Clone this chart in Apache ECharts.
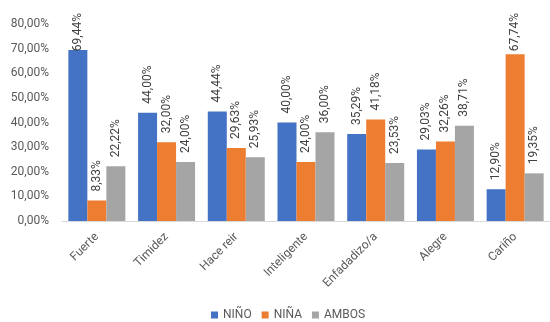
<!DOCTYPE html>
<html>
<head>
<meta charset="utf-8">
<script src="https://cdn.jsdelivr.net/npm/echarts@6/dist/echarts.min.js"></script>
<style>
  html, body { margin: 0; padding: 0; background: #fff; }
  #chart { width: 550px; height: 322px; }
</style>
</head>
<body>
<div id="chart"></div>
<script>
// Rasgos atribuidos a niños, niñas o ambos (porcentajes)
const categories = ['Fuerte', 'Timidez', 'Hace reir', 'Inteligente', 'Enfadadizo/a', 'Alegre', 'Cariño'];
const nino  = [69.44, 44.00, 44.44, 40.00, 35.29, 29.03, 12.90];
const nina  = [8.33, 32.00, 29.63, 24.00, 41.18, 32.26, 67.74];
const ambos = [22.22, 24.00, 25.93, 36.00, 23.53, 38.71, 19.35];
const seriesNames = ['NIÑO', 'NIÑA', 'AMBOS'];
const colors = ['#4472C4', '#ED7D31', '#A5A5A5'];

const FONT = 'Roboto';
const TEXT = '#595959';
const LABEL_SIZE = 12;
const LABEL_GAP = 9;        // usual gap between bar end and its label
const LABEL_TOP_LIMIT = 13; // labels never rise above this line
const pct = v => v.toFixed(2).replace('.', ',') + '%';

const measureCtx = document.createElement('canvas').getContext('2d');
measureCtx.font = LABEL_SIZE + 'px ' + FONT;
const textLen = s => measureCtx.measureText(s).width;

function makeSeries(name, data, color) {
  return {
    name: name,
    type: 'bar',
    data: data,
    barWidth: 19,
    barGap: '0%',
    itemStyle: { color: color },
    label: {
      show: true,
      position: 'top',
      rotate: 90,
      align: 'left',
      verticalAlign: 'middle',
      distance: LABEL_GAP,
      color: '#404040',
      fontFamily: FONT,
      fontSize: LABEL_SIZE,
      formatter: p => pct(p.value)
    }
  };
}

const seriesData = [nino, nina, ambos];

const chart = echarts.init(document.getElementById('chart'), null, { renderer: 'canvas' });
chart.setOption({
  animation: false,
  textStyle: { fontFamily: FONT },
  grid: { left: 62, right: -8, top: 24, bottom: 101, containLabel: false },
  legend: {
    data: seriesNames,
    top: 309,
    left: 211,
    padding: 0,
    icon: 'rect',
    itemWidth: 7,
    itemHeight: 7,
    itemGap: 10,
    textStyle: { color: TEXT, fontFamily: FONT, fontSize: 12 }
  },
  xAxis: {
    type: 'category',
    data: categories,
    axisLine: { lineStyle: { color: '#D9D9D9' } },
    axisTick: { show: false },
    axisLabel: {
      rotate: 45,
      interval: 0,
      margin: 14,
      color: TEXT,
      fontFamily: FONT,
      fontSize: 12
    }
  },
  yAxis: {
    type: 'value',
    min: 0,
    max: 80,
    interval: 10,
    splitLine: { show: false },
    axisLine: { show: false },
    axisTick: { show: false },
    axisLabel: {
      margin: 13,
      color: TEXT,
      fontFamily: FONT,
      fontSize: 12,
      formatter: v => pct(v)
    }
  },
  series: seriesData.map((d, i) => makeSeries(seriesNames[i], d, colors[i]))
});

// Tall bars: slide their labels down so they stay below the top limit
chart.setOption({
  series: seriesData.map((d, si) => ({
    data: d.map((v, ci) => {
      const top = chart.convertToPixel({ seriesIndex: si }, [ci, v])[1];
      const over = LABEL_TOP_LIMIT - (top - LABEL_GAP - textLen(pct(v)));
      return over > 0 ? { value: v, label: { distance: LABEL_GAP - over } } : v;
    })
  }))
});
</script>
</body>
</html>
